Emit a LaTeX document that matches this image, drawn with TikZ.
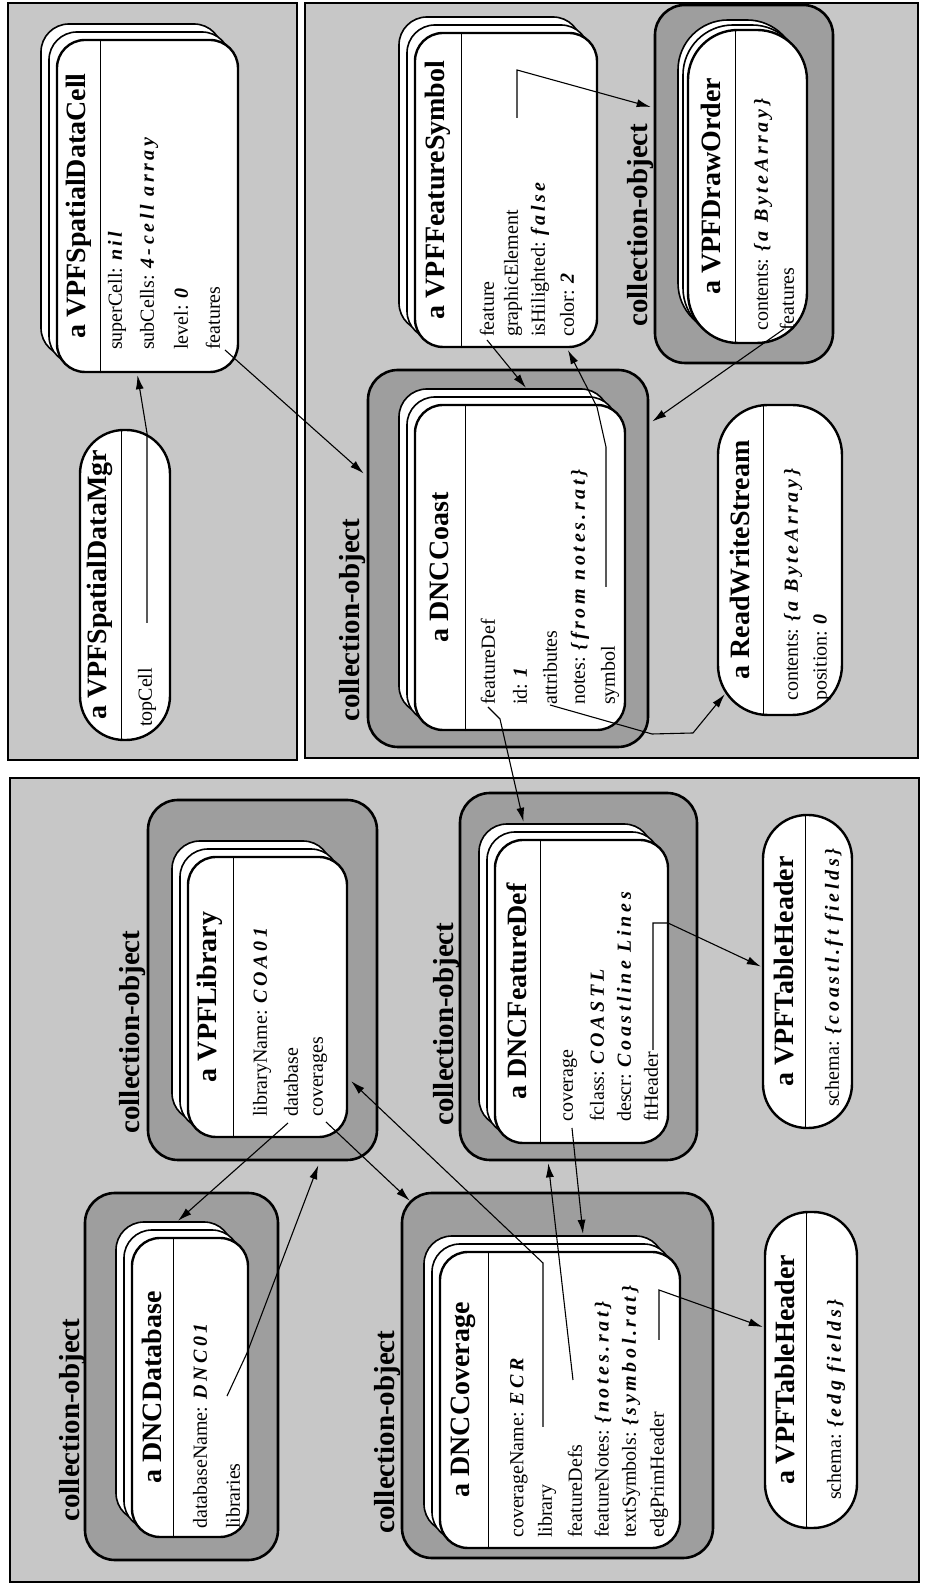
\documentclass[tikz,border=0pt]{standalone}
\usepackage{fontspec}
\setmainfont{Liberation Serif}
\usetikzlibrary{arrows.meta, calc}
\newcommand{\val}[1]{{\bfseries\itshape\addfontfeature{LetterSpace=18}#1}}

\begin{document}
\begin{tikzpicture}[x=1pt, y=1pt, rotate=90, transform shape,
    >={Latex[length=14pt,width=8pt]},
    panel/.style={draw, line width=1.5pt, fill=black!22},
    collframe/.style={draw, line width=2.6pt, fill=black!38, rounded corners=30pt, inner sep=0pt},
    collabel/.style={font=\fontsize{29}{30}\selectfont\bfseries, inner sep=0pt},
    obj/.style={draw, line width=2.4pt, fill=white, rounded corners=28pt, inner sep=0pt},
    objcopy/.style={obj, line width=1.6pt},
    pill/.style={obj, rounded corners=44pt},
    widepill/.style={obj, rounded corners=50pt},
    objtitle/.style={font=\fontsize{28}{30}\selectfont\bfseries, inner sep=0pt},
    attr/.style={font=\fontsize{20}{22}\selectfont, inner sep=0pt, anchor=west},
    seprule/.style={line width=1.2pt},
    ptr/.style={->, line width=1.1pt}]
    \useasboundingbox (0,0) rectangle (1585,924);

    % Panels
    \path[panel] (3,5) rectangle (807,914);
    \path[panel] (825,627) rectangle (1582,916);
    \path[panel] (827,6) rectangle (1582,619);

    % Collection frames
    \node[collframe, minimum width=367pt, minimum height=193pt] (dbF) at (208.5,742.5) {};
    \node[collframe, minimum width=365pt, minimum height=311pt] (covF) at (209.5,366.5) {};
    \node[collframe, minimum width=360pt, minimum height=229pt] (libF) at (605,661.5) {};
    \node[collframe, minimum width=367pt, minimum height=237pt] (fdefF) at (608.5,345.5) {};
    \node[collframe, minimum width=377pt, minimum height=280pt] (coastF) at (1026.5,416) {};
    \node[collframe, minimum width=358pt, minimum height=178pt] (drawF) at (1401,180) {};

    \node[collabel] (dbL) at (165,851) {collection-object};
    \node[collabel] (covL) at (153,536) {collection-object};
    \node[collabel] (libL) at (553,791) {collection-object};
    \node[collabel] (fdefL) at (561,477) {collection-object};
    \node[collabel] (coastL) at (965,571) {collection-object};
    \node[collabel] (drawL) at (1360,283) {collection-object};

    % a DNCDatabase
    \node[objcopy, minimum width=299pt, minimum height=116pt] (db-c2) at (213.5,750) {};
    \node[objcopy, minimum width=299pt, minimum height=116pt] (db-c1) at (205.5,742) {};
    \node[obj, minimum width=299pt, minimum height=116pt] (db) at (197.5,734) {};
    \draw[seprule] ($(db.north west)+(0,-43)$) -- ($(db.north east)+(0,-43)$);
    \node[objtitle] (dbT) at ($(db.north)+(0,-21.5)$) {a DNCDatabase};
    \node[attr] (dbR1) at (56,724) {databaseName: \val{DNC01}};
    \node[attr] (dbR2) at (56,691) {libraries};

    % a DNCCoverage
    \node[objcopy, minimum width=296pt, minimum height=240pt] (cov-c2) at (201,380) {};
    \node[objcopy, minimum width=296pt, minimum height=240pt] (cov-c1) at (193,372) {};
    \node[obj, minimum width=296pt, minimum height=240pt] (cov) at (185,364) {};
    \draw[seprule] ($(cov.north west)+(0,-50)$) -- ($(cov.north east)+(0,-50)$);
    \node[objtitle] (covT) at ($(cov.north)+(0,-25)$) {a DNCCoverage};
    \node[attr] (covR1) at (47,405) {coverageName: \val{ECR}};
    \node[attr] (covR2) at (47,377) {library};
    \node[attr] (covR3) at (47,349) {featureDefs};
    \node[attr] (covR4) at (47,321) {featureNotes: \val{\{notes.rat\}}};
    \node[attr] (covR5) at (47,293) {textSymbols: \val{\{symbol.rat\}}};
    \node[attr] (covR6) at (47,265) {edgPrimHeader};

    % a VPFTableHeader (edg)
    \node[pill, minimum width=316pt, minimum height=92pt] (edgTH) at (215,113) {};
    \draw[seprule] ($(edgTH.north west)+(0,-43)$) -- ($(edgTH.north east)+(0,-43)$);
    \node[objtitle] (edgTHT) at ($(edgTH.north)+(0,-21.5)$) {a VPFTableHeader};
    \node[attr] (edgTHR1) at (85,88) {schema: \val{\{edg fields\}}};

    % a VPFLibrary
    \node[objcopy, minimum width=280pt, minimum height=159pt] (lib-c2) at (604,672.5) {};
    \node[objcopy, minimum width=280pt, minimum height=159pt] (lib-c1) at (596,664.5) {};
    \node[obj, minimum width=280pt, minimum height=159pt] (lib) at (588,656.5) {};
    \draw[seprule] ($(lib.north west)+(0,-47)$) -- ($(lib.north east)+(0,-47)$);
    \node[objtitle] (libT) at ($(lib.north)+(0,-23.5)$) {a VPFLibrary};
    \node[attr] (libR1) at (468,662) {libraryName: \val{COA01}};
    \node[attr] (libR2) at (468,633) {database};
    \node[attr] (libR3) at (468,604) {coverages};

    % a DNCFeatureDef
    \node[objcopy, minimum width=303pt, minimum height=173pt] (fdef-c2) at (609.5,358.5) {};
    \node[objcopy, minimum width=303pt, minimum height=173pt] (fdef-c1) at (601.5,350.5) {};
    \node[obj, minimum width=303pt, minimum height=173pt] (fdef) at (593.5,342.5) {};
    \draw[seprule] ($(fdef.north west)+(0,-47)$) -- ($(fdef.north east)+(0,-47)$);
    \node[objtitle] (fdefT) at ($(fdef.north)+(0,-23.5)$) {a DNCFeatureDef};
    \node[attr] (fdefR1) at (463,354) {coverage};
    \node[attr] (fdefR2) at (463,327) {fclass: \val{COASTL}};
    \node[attr] (fdefR3) at (463,300) {descr: \val{Coastline Lines}};
    \node[attr] (fdefR4) at (463,273) {ftHeader};

    % a VPFTableHeader (coastl)
    \node[pill, minimum width=313pt, minimum height=89pt] (ftTH) at (613.5,116.5) {};
    \draw[seprule] ($(ftTH.north west)+(0,-44)$) -- ($(ftTH.north east)+(0,-44)$);
    \node[objtitle] (ftTHT) at ($(ftTH.north)+(0,-22)$) {a VPFTableHeader};
    \node[attr] (ftTHR1) at (478,90) {schema: \val{\{coastl.ft fields\}}};

    % a VPFSpatialDataMgr
    \node[pill, minimum width=310pt, minimum height=90pt] (mgr) at (1000,799) {};
    \draw[seprule] ($(mgr.north west)+(0,-43)$) -- ($(mgr.north east)+(0,-43)$);
    \node[objtitle] (mgrT) at ($(mgr.north)+(0,-21.5)$) {a VPFSpatialDataMgr};
    \node[attr] (mgrR1) at (858,777) {topCell};

    % a VPFSpatialDataCell
    \node[objcopy, minimum width=332pt, minimum height=181pt] (cell-c2) at (1395,792.5) {};
    \node[objcopy, minimum width=332pt, minimum height=181pt] (cell-c1) at (1387,784.5) {};
    \node[obj, minimum width=332pt, minimum height=181pt] (cell) at (1379,776.5) {};
    \draw[seprule] ($(cell.north west)+(0,-45)$) -- ($(cell.north east)+(0,-45)$);
    \node[objtitle] (cellT) at ($(cell.north)+(0,-22.5)$) {a VPFSpatialDataCell};
    \node[attr] (cellR1) at (1235,807) {superCell: \val{nil}};
    \node[attr] (cellR2) at (1235,775) {subCells: \val{4-cell array}};
    \node[attr] (cellR3) at (1235,743) {level: \val{0}};
    \node[attr] (cellR4) at (1235,711) {features};

    % a DNCCoast
    \node[objcopy, minimum width=325pt, minimum height=210pt] (coast-c2) at (1033.5,420) {};
    \node[objcopy, minimum width=325pt, minimum height=210pt] (coast-c1) at (1025.5,412) {};
    \node[obj, minimum width=325pt, minimum height=210pt] (coast) at (1017.5,404) {};
    \draw[seprule] ($(coast.north west)+(0,-52)$) -- ($(coast.north east)+(0,-52)$);
    \node[objtitle] (coastT) at ($(coast.north)+(0,-26)$) {a DNCCoast};
    \node[attr] (coastR1) at (880,436) {featureDef};
    \node[attr] (coastR2) at (880,404) {id: \val{1}};
    \node[attr] (coastR3) at (880,374) {attributes};
    \node[attr] (coastR4) at (880,344) {notes: \val{\{from notes.rat\}}};
    \node[attr] (coastR5) at (880,314) {symbol};

    % a VPFFeatureSymbol
    \node[objcopy, minimum width=314pt, minimum height=182pt] (fsym-c2) at (1411,434) {};
    \node[objcopy, minimum width=314pt, minimum height=182pt] (fsym-c1) at (1403,426) {};
    \node[obj, minimum width=314pt, minimum height=182pt] (fsym) at (1395,418) {};
    \draw[seprule] ($(fsym.north west)+(0,-48)$) -- ($(fsym.north east)+(0,-48)$);
    \node[objtitle] (fsymT) at ($(fsym.north)+(0,-24)$) {a VPFFeatureSymbol};
    \node[attr] (fsymR1) at (1248,437) {feature};
    \node[attr] (fsymR2) at (1248,411) {graphicElement};
    \node[attr] (fsymR3) at (1248,384) {isHilighted: \val{false}};
    \node[attr] (fsymR4) at (1248,357) {color: \val{2}};

    % a VPFDrawOrder
    \node[widepill, line width=1.6pt, minimum width=313pt, minimum height=119pt] (draw-c2) at (1408.5,186.5) {};
    \node[widepill, line width=1.6pt, minimum width=313pt, minimum height=119pt] (draw-c1) at (1403.5,181.5) {};
    \node[widepill, minimum width=313pt, minimum height=119pt] (draw) at (1398.5,176.5) {};
    \draw[seprule] ($(draw.north west)+(0,-49)$) -- ($(draw.north east)+(0,-49)$);
    \node[objtitle] (drawT) at ($(draw.north)+(0,-24.5)$) {a VPFDrawOrder};
    \node[attr] (drawR1) at (1254,161) {contents: \val{\{a ByteArray\}}};
    \node[attr] (drawR2) at (1254,137) {features};

    % a ReadWriteStream
    \node[widepill, minimum width=310pt, minimum height=124pt] (rws) at (1025,144) {};
    \draw[seprule] ($(rws.north west)+(0,-47)$) -- ($(rws.north east)+(0,-47)$);
    \node[objtitle] (rwsT) at ($(rws.north)+(0,-23.5)$) {a ReadWriteStream};
    \node[attr] (rwsR1) at (884,131) {contents: \val{\{a ByteArray\}}};
    \node[attr] (rwsR2) at (884,102) {position: \val{0}};

    % Pointers between objects
    \draw[ptr] (dbR2.east) ++(67,6) -- ++(43,-20) -- ($(libF.south west)+(-4,60)$);
    \draw[ptr] ($(libR2.west)+(-6,3)$) -- ($(db.east)+(16,12)$);
    \draw[ptr] ($(libR3.west)+(-5,-6)$) -- ($(covF.north east)+(-9,-9)$);
    \draw[ptr] ($(covR2.west)+(111,4)$) -- ++(164,0) -- ($(lib.south west)+(57,-3)$);
    \draw[ptr] ($(covR3.west)+(158,2)$) -- ($(fdefF.south west)+(-2,150)$);
    \draw[ptr] ($(fdefR1.west)+(-6,-2)$) -- ($(cov.east)+(17,-23)$);
    \draw[ptr] ($(covR6.west)+(198,0)$) -- ++(50,0) -- ($(edgTH.north)+(43,1)$);
    \draw[ptr] ($(fdefR4.west)+(72,-2)$) -- ++(127,0) -- ++(0,-15) -- ($(ftTH.north)+(5,1)$);
    % Pointers in the right panels
    \draw[ptr] ($(coastR1.west)+(-2,0)$) -- ++(-12,-12) -- ($(fdef.east)+(17,58)$);
    \draw[ptr] (coastR3.west) -- ++(-29,-102) -- ++(1,-41) -- ($(rws.north west)+(22,-8)$);
    \draw[ptr] ($(coastR5.west)+(118,4)$) -- ++(140,0) -- ++(40,9) -- ($(fsym.west)+(-2,-62)$);
    \draw[ptr] ($(fsymR1.west)+(-3,0)$) -- ($(coast.east)+(16,-6)$);
    \draw[ptr] ($(fsymR2.west)+(219,-4)$) -- ++(48,0) -- ($(drawF.north)+(77,3)$);
    \draw[ptr] ($(drawR2.west)+(2,3)$) -- ($(coastF.south)+(137,-3)$);
    \draw[ptr] ($(cellR4.west)+(0,-12)$) -- ($(coastF.north)+(85,3)$);
    \draw[ptr] ($(mgrR1.west)+(104,0)$) -- ++(190,0) -- ($(cell.west)+(-2,10)$);
\end{tikzpicture}
\end{document}
